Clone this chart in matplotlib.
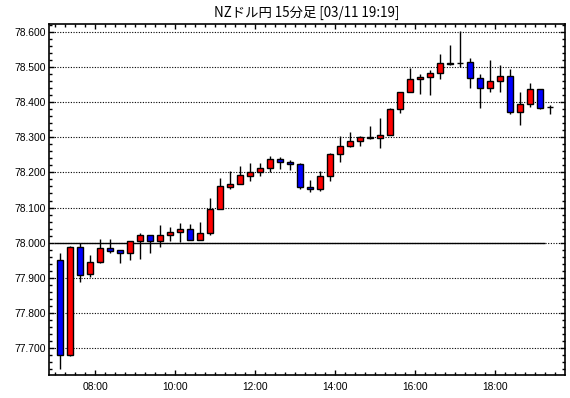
import numpy as np
import matplotlib
matplotlib.use("Agg")
import matplotlib.pyplot as plt
from matplotlib.ticker import FixedLocator, MultipleLocator, FormatStrFormatter

# 15 min bars, 07:00 .. 19:15
opens = [77.950, 77.680, 77.987, 77.911, 77.945, 77.984, 77.979, 77.970, 78.004, 78.022,
         78.006, 78.021, 78.030, 78.039, 78.007, 78.027, 78.095, 78.159, 78.166, 78.191,
         78.200, 78.212, 78.237, 78.229, 78.223, 78.158, 78.152, 78.189, 78.252, 78.274,
         78.288, 78.300, 78.297, 78.306, 78.379, 78.428, 78.465, 78.470, 78.482, 78.510,
         78.511, 78.513, 78.468, 78.439, 78.459, 78.473, 78.371, 78.394, 78.436, 78.385]
highs = [77.972, 77.990, 78.000, 77.965, 78.011, 78.011, 77.979, 78.004, 78.028, 78.022,
         78.051, 78.046, 78.056, 78.053, 78.059, 78.127, 78.183, 78.203, 78.218, 78.227,
         78.227, 78.247, 78.243, 78.234, 78.226, 78.178, 78.203, 78.254, 78.303, 78.314,
         78.303, 78.332, 78.356, 78.382, 78.428, 78.496, 78.480, 78.491, 78.537, 78.562,
         78.601, 78.525, 78.479, 78.520, 78.505, 78.493, 78.429, 78.455, 78.436, 78.393]
lows = [77.642, 77.677, 77.887, 77.902, 77.942, 77.972, 77.942, 77.951, 77.955, 77.970,
        77.989, 78.006, 78.001, 78.007, 78.007, 78.021, 78.095, 78.154, 78.166, 78.176,
        78.189, 78.200, 78.211, 78.207, 78.152, 78.143, 78.146, 78.176, 78.230, 78.271,
        78.274, 78.294, 78.270, 78.306, 78.370, 78.428, 78.424, 78.421, 78.466, 78.506,
        78.500, 78.441, 78.384, 78.428, 78.428, 78.367, 78.336, 78.387, 78.380, 78.367]
closes = [77.680, 77.987, 77.908, 77.945, 77.984, 77.977, 77.970, 78.004, 78.022, 78.006,
          78.022, 78.031, 78.039, 78.007, 78.028, 78.095, 78.161, 78.166, 78.192, 78.200,
          78.212, 78.237, 78.229, 78.223, 78.158, 78.152, 78.189, 78.252, 78.274, 78.288,
          78.300, 78.298, 78.306, 78.379, 78.428, 78.465, 78.470, 78.482, 78.510, 78.508,
          78.511, 78.468, 78.439, 78.459, 78.473, 78.371, 78.394, 78.436, 78.384, 78.385]

hour_labels = ["08:00", "10:00", "12:00", "14:00", "16:00", "18:00"]
first_hour = 7
ref_price = 78.000
title = "NZドル円 15分足 [03/11 19:19]"


def main():
    fig = plt.figure(figsize=(5.7, 3.98), dpi=100)
    ax = fig.add_axes([49 / 570, 1 - 375 / 398, 516 / 570, (375 - 24.3) / 398])

    o = np.array(opens)
    h = np.array(highs)
    l = np.array(lows)
    c = np.array(closes)
    x = np.arange(len(o))

    # grid + reference line
    for yv in np.arange(77.7, 78.61, 0.1):
        ax.axhline(yv, color="black", lw=0.8, ls=(0, (1, 1.4)), zorder=1)
    ax.hlines(ref_price, -0.6, 48.5, color="black", lw=1.0, zorder=1.5)

    # wicks
    ax.vlines(x, l, h, color="black", lw=1.0, zorder=2)

    # bodies: red = up, blue = down
    colors = np.where(c >= o, "#ff0000", "#0000ff")
    bottoms = np.minimum(o, c)
    heights = np.abs(c - o)
    ax.bar(x, heights, bottom=bottoms, width=0.62, color=colors,
           edgecolor="black", linewidth=1.0, zorder=3)

    ax.set_xlim(-1.13, 50.47)
    ax.set_ylim(77.624, 78.621)

    # x ticks: each 15 min slot boundary, labels every 2 hours
    major_x = [3.5 + 4 * (int(lab[:2]) - first_hour - 1) for lab in hour_labels]
    ax.xaxis.set_major_locator(FixedLocator(major_x))
    ax.xaxis.set_minor_locator(FixedLocator(np.arange(-0.5, 50.5, 1.0)))
    ax.set_xticklabels(hour_labels)

    ax.yaxis.set_major_locator(MultipleLocator(0.1))
    ax.yaxis.set_minor_locator(MultipleLocator(0.02))
    ax.yaxis.set_major_formatter(FormatStrFormatter("%.3f"))

    ax.tick_params(which="both", direction="in", top=True, right=True,
                   color="black", width=1.0)
    ax.tick_params(which="major", length=3.5)
    ax.tick_params(which="minor", length=2.0)
    ax.tick_params(axis="y", which="major", pad=2, labelsize=7.4)
    ax.tick_params(axis="x", which="major", pad=5, labelsize=7.4)
    for lab in ax.get_xticklabels() + ax.get_yticklabels():
        lab.set_family(["Liberation Sans", "DejaVu Sans"])

    for sp in ax.spines.values():
        sp.set_linewidth(1.2)
        sp.set_color("black")

    fig.text(307 / 570, 1 - 12.5 / 398, title, ha="center", va="center",
             fontsize=9.6, family=["Noto Sans CJK JP", "DejaVu Sans"])

    fig.savefig("out.png", dpi=100, facecolor="white")


if __name__ == "__main__":
    main()
